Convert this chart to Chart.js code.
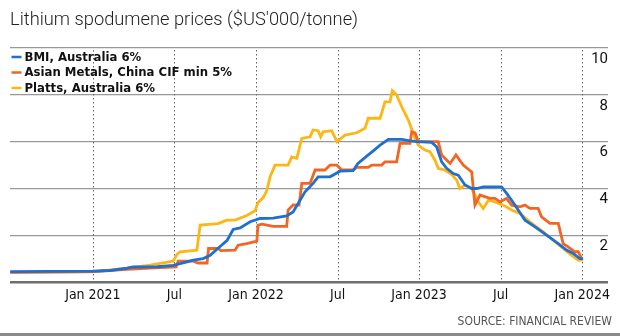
<!DOCTYPE html>
<html>
<head>
<meta charset="utf-8">
<script src="https://cdn.jsdelivr.net/npm/chart.js@4"></script>
<style>
  html, body { margin: 0; padding: 0; background: #fff; }
  #wrap { position: relative; width: 620px; height: 336px; overflow: hidden; }
  #title {
    position: absolute; left: 10px; top: 8px;
    font-family: Roboto, 'Noto Sans', sans-serif; font-weight: 300;
    font-size: 18.3px; color: #222; white-space: nowrap;
  }
  #source {
    position: absolute; right: 8px; top: 314px;
    font-family: 'Liberation Sans Narrow', 'DejaVu Sans Condensed', sans-serif;
    font-size: 12px; color: #555; white-space: nowrap;
  }
  #bar { position: absolute; left: 0; right: 0; bottom: 0; height: 3px; background: #8a8a8a; }
  canvas { position: absolute; left: 0; top: 0; }
</style>
</head>
<body>
<div id="wrap">
  <canvas id="lithiumChart" width="620" height="336"></canvas>
  <div id="title">Lithium spodumene prices ($US'000/tonne)</div>
  <div id="source">SOURCE: FINANCIAL REVIEW</div>
  <div id="bar"></div>
</div>
<script>
// x values are months counted from Jan 2021 (Jul 2020 = -6)
const tickMonths = [0, 6, 12, 18, 24, 30, 36];
const tickLabels = ['Jan 2021', 'Jul', 'Jan 2022', 'Jul', 'Jan 2023', 'Jul', 'Jan 2024'];
const seriesNames = ['BMI, Australia 6%', 'Asian Metals, China CIF min 5%', 'Platts, Australia 6%'];
const seriesColors = ['#1f6fd1', '#f26522', '#fdb714'];

const bmiMonths = [-6.08, 0, 1.27, 2.52, 2.96, 4.73, 5.9, 6.93, 7.38, 8.11, 8.63, 9.21, 9.88, 10.32, 10.83, 11.57,
  12.3, 13.26, 14.26, 14.73, 15.24, 15.61, 16.2, 16.57, 17.45, 18.18, 19.14, 19.5, 20.15, 20.63, 21.13, 21.74,
  22.72, 23.33, 23.82, 24.93, 25.29, 25.66, 26.03, 26.51, 26.88, 27.38, 27.87, 28.24, 28.72, 30.07, 30.44,
  30.81, 31.18, 31.79, 32.53, 33.38, 34.24, 34.85, 35.34, 35.83, 36.07];
const bmiValues = [0.45, 0.47, 0.5, 0.6, 0.65, 0.66, 0.72, 0.87, 0.94, 1.01, 1.15, 1.45, 1.79, 2.25, 2.32, 2.58,
  2.72, 2.74, 2.83, 3.0, 3.5, 3.86, 4.22, 4.5, 4.5, 4.74, 4.76, 5.07, 5.38, 5.61, 5.85, 6.1,
  6.1, 6.03, 6.0, 5.97, 5.78, 5.14, 4.86, 4.64, 4.57, 4.15, 4.0, 4.0, 4.07, 4.07, 3.79,
  3.5, 3.18, 2.65, 2.36, 2.01, 1.65, 1.37, 1.23, 1.01, 1.01];

const asianMonths = [-6.08, 0, 2.52, 4.21, 6.12, 6.27, 7.38, 7.74, 8.4, 8.51, 9.21, 9.43, 10.46, 10.68, 11.32,
  12.06, 12.15, 12.45, 13.26, 14.26, 14.36, 14.73, 15.17, 15.37, 15.98, 16.35, 17.08, 17.45, 17.94, 18.31,
  19.16, 19.41, 20.26, 20.51, 21.25, 21.49, 22.35, 22.6, 23.33, 23.46, 23.71, 23.94, 25.41, 25.66, 26.15,
  26.28, 26.71, 27.25, 27.87, 28.11, 28.48, 29.21, 29.58, 29.96, 30.44, 30.81, 31.42, 31.79, 32.15, 32.76,
  33.01, 33.63, 34.24, 34.6, 34.97, 35.46, 35.71, 35.96];
const asianValues = [0.42, 0.45, 0.55, 0.6, 0.65, 0.9, 0.9, 0.82, 0.82, 1.44, 1.44, 1.35, 1.37, 1.58, 1.65,
  1.75, 2.44, 2.48, 2.38, 2.38, 3.08, 3.3, 3.29, 4.22, 4.22, 4.79, 4.79, 5.0, 5.0, 4.79,
  4.79, 4.9, 4.9, 5.0, 5.0, 5.14, 5.14, 5.93, 5.93, 6.42, 6.38, 6.0, 6.0, 5.43, 5.14,
  5.07, 5.43, 5.0, 4.71, 3.29, 3.72, 3.58, 3.58, 3.43, 3.58, 3.29, 3.22, 3.29, 3.15, 3.15,
  2.79, 2.51, 2.51, 1.65, 1.51, 1.3, 1.3, 1.01];

const plattsMonths = [-6.08, 0, 2.52, 4.21, 4.95, 5.9, 6.2, 6.42, 7.65, 7.89, 9.21, 9.85, 10.46, 11.32, 11.93,
  12.15, 12.52, 12.79, 13.04, 13.4, 14.36, 14.63, 15.0, 15.37, 15.98, 16.2, 16.57, 16.76, 16.93, 17.57,
  17.96, 18.55, 19.41, 20.02, 20.26, 21.13, 21.49, 21.86, 22.03, 22.35, 22.72, 23.21, 23.7, 23.94, 24.43,
  24.8, 25.17, 25.41, 25.9, 26.4, 26.76, 27.0, 27.38, 27.87, 28.35, 28.72, 29.09, 29.58, 30.19, 30.81,
  31.42, 32.15, 33.13, 33.87, 34.6, 35.22, 35.71, 36.07];
const plattsValues = [0.42, 0.44, 0.6, 0.73, 0.8, 0.9, 1.2, 1.3, 1.37, 2.44, 2.5, 2.65, 2.65, 2.85, 3.05,
  3.4, 3.6, 3.9, 4.5, 5.0, 5.0, 5.35, 5.29, 6.14, 6.21, 6.5, 6.47, 6.21, 6.42, 6.47,
  6.0, 6.28, 6.38, 6.57, 7.0, 7.0, 7.7, 7.7, 8.18, 7.99, 7.49, 6.92, 6.14, 5.85, 5.64,
  5.57, 5.21, 4.86, 4.79, 4.6, 4.36, 4.0, 4.15, 4.0, 3.43, 3.15, 3.5, 3.43, 3.29, 3.08,
  2.94, 2.58, 2.15, 1.79, 1.44, 1.15, 0.94, 0.94];

function toPoints(months, values) {
    return months.map((m, i) => ({ x: m, y: values[i] }));
}

// Legend drawn inside the chart area, top left
const insideLegend = {
    id: 'insideLegend',
    afterDatasetsDraw(chart) {
        const ctx = chart.ctx;
        const left = chart.chartArea.left;
        const top = chart.chartArea.top;
        ctx.save();
        ctx.font = "bold 13px 'Liberation Sans Narrow', 'DejaVu Sans Condensed', sans-serif";
        ctx.textBaseline = 'middle';
        chart.data.datasets.forEach((ds, i) => {
            const y = top + 9 + i * 15.5;
            ctx.strokeStyle = ds.borderColor;
            ctx.lineWidth = 2.5;
            ctx.beginPath();
            ctx.moveTo(left + 1.5, y);
            ctx.lineTo(left + 11.5, y);
            ctx.stroke();
            ctx.fillStyle = '#111';
            ctx.fillText(ds.label, left + 14.5, y + 0.5);
        });
        ctx.restore();
    }
};

// Dotted vertical month lines
const monthLines = {
    id: 'monthLines',
    beforeDatasetsDraw(chart) {
        const ctx = chart.ctx;
        const xs = chart.scales.x;
        const area = chart.chartArea;
        ctx.save();
        ctx.fillStyle = '#666';
        tickMonths.forEach(m => {
            const px = Math.round(xs.getPixelForValue(m));
            for (let y = Math.ceil(area.top) + 2; y < area.bottom - 1; y += 4) {
                ctx.fillRect(px, y, 1, 1.5);
            }
        });
        ctx.restore();
    }
};

const allMonths = [bmiMonths, asianMonths, plattsMonths];
const allValues = [bmiValues, asianValues, plattsValues];

new Chart(document.getElementById('lithiumChart'), {
    type: 'line',
    data: {
        datasets: seriesNames.map((name, i) => ({
            label: name,
            data: toPoints(allMonths[i], allValues[i]),
            borderColor: seriesColors[i],
            backgroundColor: seriesColors[i],
            borderWidth: 2.8,
            pointRadius: 0,
            tension: 0,
            fill: false
        }))
    },
    options: {
        responsive: false,
        animation: false,
        devicePixelRatio: 1,
        layout: { padding: { left: 10, right: 12, top: 48, bottom: 27 } },
        plugins: {
            legend: { display: false },
            tooltip: { enabled: false }
        },
        scales: {
            x: {
                type: 'linear',
                min: -6.1,
                max: 37.9,
                afterBuildTicks: (scale) => {
                    scale.ticks = tickMonths.map(v => ({ value: v }));
                },
                ticks: {
                    autoSkip: false,
                    maxRotation: 0,
                    padding: 5,
                    color: '#111',
                    font: { family: "'Liberation Sans Narrow', 'DejaVu Sans Condensed', sans-serif", size: 14 },
                    callback: (value) => tickLabels[tickMonths.indexOf(value)]
                },
                grid: { display: false, drawTicks: false },
                border: { display: false }
            },
            y: {
                position: 'right',
                min: 0,
                max: 10,
                ticks: {
                    stepSize: 2,
                    mirror: true,
                    padding: 0,
                    labelOffset: 11,
                    color: '#111',
                    font: { family: "Roboto, 'Noto Sans', sans-serif", size: 15 },
                    callback: (value) => value === 0 ? '' : value
                },
                grid: {
                    drawTicks: false,
                    color: (c) => c.tick && c.tick.value === 0 ? '#6e6e6e' : '#999',
                    lineWidth: (c) => c.tick && c.tick.value === 0 ? 2.5 : 1.2
                },
                border: { display: false }
            }
        }
    },
    plugins: [monthLines, insideLegend]
});
</script>
</body>
</html>
